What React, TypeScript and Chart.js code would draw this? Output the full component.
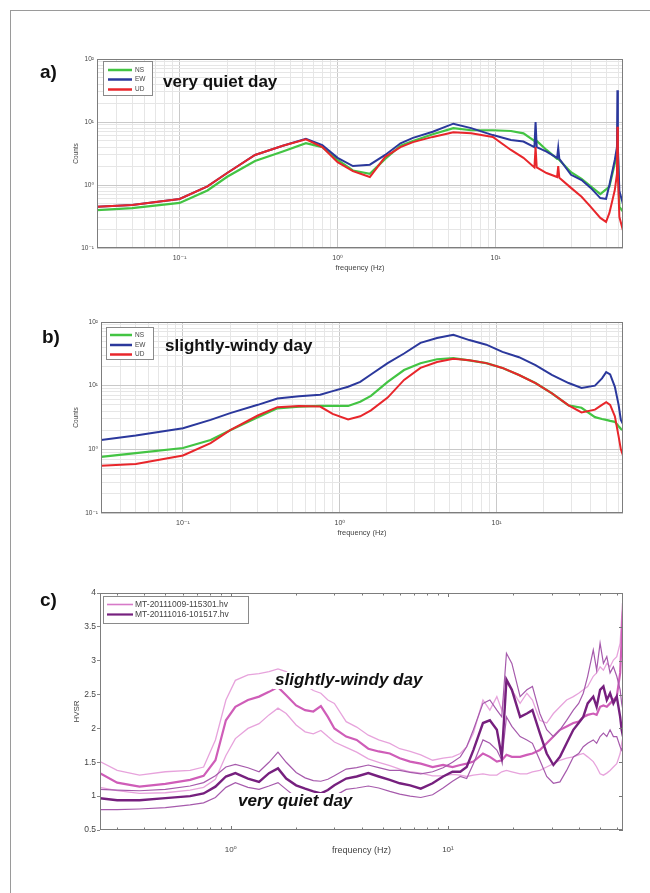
import React, { useEffect, useRef } from 'react';
import { Chart, registerables } from 'chart.js';

Chart.register(...registerables);

const FONT = 'Arial, "Liberation Sans", "DejaVu Sans", sans-serif';

// ---------- Panel a: very quiet day spectra ----------
const freqA = [0.03, 0.05, 0.1, 0.15, 0.2, 0.3, 0.45, 0.63, 0.8, 1.0, 1.25, 1.6, 2.0, 2.5, 3.0, 4.0, 5.4, 7.0, 9.6, 12.5, 15, 17.6, 17.9, 18.2, 21, 24.5, 24.9, 25.3, 30, 35, 40, 46, 50, 52.5, 56.8, 58.6, 59.0, 59.4, 60.7, 64];
const ewA = [0.45, 0.48, 0.6, 0.95, 1.55, 3.0, 4.2, 5.4, 4.3, 2.7, 2.0, 2.1, 3.0, 4.6, 5.6, 7.0, 9.4, 8.0, 6.2, 5.2, 4.9, 4.0, 10, 4.0, 3.4, 2.7, 3.9, 2.6, 1.45, 1.2, 0.9, 0.62, 0.6, 1.0, 2.5, 4.0, 32, 4.0, 0.8, 0.5];
const nsA = [0.40, 0.43, 0.52, 0.82, 1.35, 2.4, 3.4, 4.6, 4.0, 2.5, 1.7, 1.5, 2.6, 4.2, 5.0, 6.4, 8.0, 7.4, 7.4, 7.2, 6.6, 5.0, 5.0, 5.0, 3.6, 2.6, 2.6, 2.5, 1.6, 1.25, 0.95, 0.72, 0.85, 0.95, 2.2, 3.0, 3.5, 3.0, 0.45, 0.38];
const udA = [0.45, 0.48, 0.6, 0.95, 1.55, 3.0, 4.2, 5.3, 4.0, 2.3, 1.66, 1.34, 2.8, 4.0, 4.8, 5.8, 6.9, 6.6, 5.8, 3.6, 2.7, 1.9, 4.0, 1.9, 1.55, 1.34, 2.0, 1.3, 0.9, 0.65, 0.45, 0.3, 0.26, 0.36, 0.83, 1.5, 8.4, 1.5, 0.31, 0.19];

// ---------- Panel b: slightly-windy day spectra ----------
const freqB = [0.03, 0.05, 0.1, 0.15, 0.2, 0.3, 0.4, 0.55, 0.75, 0.9, 1.13, 1.35, 1.58, 2.02, 2.57, 3.27, 4.17, 5.3, 6.7, 8.6, 10.9, 13.9, 17.7, 22.5, 28.8, 34.8, 42.4, 47, 50, 53, 56.8, 60, 62, 64];
const ewB = [1.4, 1.65, 2.15, 2.9, 3.7, 5.0, 6.3, 6.8, 7.2, 8.2, 9.6, 11.5, 15, 22.6, 32, 47, 56, 63, 52, 44, 34, 28, 21, 14.8, 11, 9.2, 10, 13, 16.3, 15, 9.6, 5, 2.9, 2.5];
const nsB = [0.76, 0.87, 1.05, 1.4, 2.0, 3.2, 4.4, 4.7, 4.8, 4.8, 4.8, 5.6, 6.9, 11.5, 17.6, 22.5, 26, 27, 25, 22.6, 19, 14.7, 11, 7.6, 4.9, 4.5, 3.2, 3.0, 2.9, 2.8, 2.7, 2.3, 2.1, 2.0];
const udB = [0.55, 0.59, 0.8, 1.25, 2.0, 3.4, 4.6, 4.8, 4.7, 3.6, 2.95, 3.3, 4.1, 6.5, 12.3, 19, 23.5, 26.5, 25, 22.6, 19, 14.7, 11, 7.6, 4.9, 3.8, 4.2, 5.0, 5.5, 5.0, 3.3, 1.6, 1.0, 0.8];

// ---------- Panel c: HVSR curves ----------
const freqC = [0.25, 0.3, 0.38, 0.5, 0.65, 0.75, 0.85, 0.95, 1.05, 1.2, 1.35, 1.5, 1.65, 1.8, 2.0, 2.2, 2.4, 2.6, 2.8, 3.0,
  3.4, 3.8, 4.3, 4.8, 5.4, 6.0, 6.7, 7.5, 8.5, 9.5, 10.5,
  11.4, 12.2, 13.1, 14.5, 15.6, 16.8, 17.7, 18.6, 19.7, 21.5, 23.1, 24.5, 26.5, 28.5, 30.6, 32.8, 35.2, 37.8, 40, 42, 44, 46.7, 48.4, 50.2, 52, 53.9, 55.8, 57.8, 59.9, 62.1, 63.1, 64];
const windyMean = [1.34, 1.20, 1.14, 1.18, 1.24, 1.30, 1.53, 2.12, 2.32, 2.42, 2.47, 2.54, 2.61, 2.49, 2.34, 2.27, 2.25, 2.33, 2.17, 2.00,
  1.88, 1.83, 1.70, 1.66, 1.63, 1.56, 1.51, 1.48, 1.43, 1.46, 1.43,
  1.46, 1.48, 1.51, 1.63, 1.58, 1.51, 1.53, 1.61, 1.58, 1.58, 1.61, 1.63, 1.68, 1.78, 1.88, 1.98, 2.03, 2.08, 2.10, 2.17, 2.20, 2.22, 2.20, 2.32, 2.34, 2.32, 2.37, 2.42, 2.47, 2.82, 3.31, 3.85];
const windyUpper = [1.51, 1.38, 1.31, 1.36, 1.38, 1.43, 1.83, 2.42, 2.71, 2.79, 2.81, 2.84, 2.88, 2.84, 2.71, 2.64, 2.56, 2.52, 2.42, 2.37,
  2.10, 2.02, 1.90, 1.83, 1.78, 1.70, 1.66, 1.61, 1.53, 1.56, 1.58,
  1.63, 1.73, 1.93, 2.42, 2.27, 2.47, 2.27, 2.67, 2.57, 2.37, 2.52, 2.42, 2.12, 2.08, 2.22, 2.32, 2.42, 2.47, 2.52, 2.57, 2.62, 2.77, 2.82, 2.91, 2.86, 2.96, 2.91, 3.01, 3.06, 3.26, 3.65, 3.80];
const windyLower = [1.13, 1.08, 1.04, 1.05, 1.09, 1.13, 1.25, 1.60, 1.85, 2.00, 2.07, 2.20, 2.30, 2.22, 2.05, 1.95, 1.92, 1.97, 1.88, 1.80,
  1.72, 1.65, 1.55, 1.50, 1.45, 1.40, 1.36, 1.34, 1.30, 1.30, 1.32,
  1.31, 1.29, 1.31, 1.33, 1.31, 1.31, 1.36, 1.38, 1.36, 1.33, 1.33, 1.36, 1.38, 1.43, 1.48, 1.53, 1.56, 1.58, 1.61, 1.63, 1.58, 1.51, 1.43, 1.33, 1.31, 1.34, 1.38, 1.43, 1.48, 1.63, 1.78, 1.88];
const quietMean = [0.97, 0.94, 0.94, 0.97, 1.00, 1.04, 1.14, 1.29, 1.34, 1.26, 1.21, 1.34, 1.41, 1.26, 1.16, 1.11, 1.07, 1.04, 1.09, 1.16,
  1.26, 1.29, 1.34, 1.29, 1.24, 1.19, 1.16, 1.11, 1.19, 1.29, 1.36,
  1.36, 1.43, 1.68, 2.08, 2.12, 1.98, 1.58, 2.72, 2.57, 2.17, 2.22, 2.27, 1.93, 1.63, 1.46, 1.58, 1.78, 1.98, 2.08, 2.17, 2.37, 2.47, 2.32, 2.57, 2.62, 2.42, 2.52, 2.37, 2.47, 2.17, 1.98, 1.88];
const quietUpper = [1.10, 1.09, 1.08, 1.10, 1.15, 1.20, 1.30, 1.43, 1.47, 1.42, 1.36, 1.50, 1.65, 1.50, 1.35, 1.27, 1.23, 1.22, 1.25, 1.30,
  1.40, 1.42, 1.46, 1.42, 1.38, 1.38, 1.35, 1.33, 1.36, 1.42, 1.50,
  1.58, 1.73, 1.98, 2.37, 2.42, 2.27, 2.17, 3.11, 2.96, 2.47, 2.57, 2.62, 2.22, 1.98, 1.88, 1.98, 2.12, 2.27, 2.37, 2.52, 2.77, 3.16, 2.86, 3.26, 2.96, 3.06, 2.82, 2.91, 2.77, 2.57, 2.37, 2.27];
const quietLower = [0.80, 0.80, 0.81, 0.83, 0.87, 0.90, 0.98, 1.13, 1.20, 1.13, 1.10, 1.15, 1.20, 1.10, 0.98, 0.94, 0.92, 0.92, 0.95, 1.00,
  1.10, 1.12, 1.15, 1.12, 1.07, 1.03, 1.00, 0.98, 1.02, 1.12, 1.22,
  1.29, 1.26, 1.48, 1.83, 1.78, 1.68, 1.53, 2.17, 2.03, 1.88, 1.83, 1.78, 1.53, 1.29, 1.19, 1.21, 1.38, 1.58, 1.63, 1.73, 1.78, 1.83, 1.78, 1.88, 1.93, 1.88, 1.98, 1.88, 1.88, 1.73, 1.68, 1.73];

// ---------- Axes ----------
const decadeLabels: Record<string, string> = { '0.1': '10⁻¹', '1': '10⁰', '10': '10¹', '100': '10²' };
const mantissas = [1, 2, 3, 4, 5, 6, 7, 8, 9];
const psdFreqRange = [0.03, 64];
const psdCountRange = [0.1, 100];
const hvsrFreqRange = [0.25, 64];
const hvsrRange = [0.5, 4];

const COLORS = {
  ns: '#43c443',
  ew: '#2b389c',
  ud: '#e8262b',
  windyMean: '#cf5db8',
  windyStd: '#e7a3dc',
  quietMean: '#76207e',
  quietStd: '#a65aac',
};

function logTickValues(min: number, max: number): number[] {
  const out: number[] = [];
  for (let e = Math.floor(Math.log10(min)); e <= Math.ceil(Math.log10(max)); e++) {
    for (const m of mantissas) {
      const v = +(m * Math.pow(10, e)).toPrecision(6);
      if (v >= min - 1e-12 && v <= max + 1e-12) out.push(v);
    }
  }
  return out;
}

const isDecade = (v: number) => decadeLabels[String(+(+v).toPrecision(6))] !== undefined;
const decadeLabel = (v: any) => decadeLabels[String(+(+v).toPrecision(6))] ?? '';

const toXY = (f: number[], v: number[]) => f.map((x, i) => ({ x, y: v[i] }));

type TextItem = { text: string; x: number; y: number; font: string; bg?: boolean };
type LegendItem = { label: string; color: string; width: number };
type Decor = {
  texts: TextItem[];
  legend: { x: number; y: number; w: number; h: number; rows: number[]; lineX: [number, number]; textX: number; font: string; items: LegendItem[] };
  inwardTicks?: boolean;
};

function makeDecor(cfg: Decor) {
  return {
    id: 'panelDecor',
    afterDraw(chart: any) {
      const { ctx, chartArea: a } = chart;
      ctx.save();
      if (cfg.inwardTicks) {
        ctx.strokeStyle = '#777';
        ctx.lineWidth = 1;
        const xs = chart.scales.x;
        for (const t of xs.ticks) {
          const px = Math.round(xs.getPixelForValue(t.value)) + 0.5;
          const len = isDecade(t.value) ? 4 : 2.5;
          ctx.beginPath();
          ctx.moveTo(px, a.bottom); ctx.lineTo(px, a.bottom - len);
          ctx.moveTo(px, a.top); ctx.lineTo(px, a.top + len);
          ctx.stroke();
        }
        const ys = chart.scales.y;
        for (const t of ys.ticks) {
          const py = Math.round(ys.getPixelForValue(t.value)) + 0.5;
          ctx.beginPath();
          ctx.moveTo(a.right, py); ctx.lineTo(a.right - 4, py);
          ctx.stroke();
        }
      }
      // box
      ctx.strokeStyle = '#7d7d7d';
      ctx.lineWidth = 1;
      ctx.strokeRect(Math.round(a.left) + 0.5, Math.round(a.top) + 0.5, Math.round(a.right - a.left) - 1, Math.round(a.bottom - a.top) - 1);
      // legend
      const L = cfg.legend;
      ctx.fillStyle = '#ffffff';
      ctx.fillRect(L.x, L.y, L.w, L.h);
      ctx.strokeStyle = '#8a8a8a';
      ctx.strokeRect(L.x + 0.5, L.y + 0.5, L.w, L.h);
      L.items.forEach((it, i) => {
        const y = L.rows[i];
        ctx.strokeStyle = it.color;
        ctx.lineWidth = it.width;
        ctx.beginPath();
        ctx.moveTo(L.lineX[0], y); ctx.lineTo(L.lineX[1], y);
        ctx.stroke();
        ctx.fillStyle = '#444';
        ctx.font = L.font;
        ctx.textBaseline = 'middle';
        ctx.textAlign = 'left';
        ctx.fillText(it.label, L.textX, y);
      });
      // texts
      for (const t of cfg.texts) {
        ctx.font = t.font;
        ctx.textAlign = 'left';
        ctx.textBaseline = 'alphabetic';
        if (t.bg) {
          const w = ctx.measureText(t.text).width;
          ctx.fillStyle = '#ffffff';
          ctx.fillRect(t.x - 2, t.y - 13, w + 4, 17);
        }
        ctx.fillStyle = '#111';
        ctx.fillText(t.text, t.x, t.y);
      }
      ctx.restore();
    },
  };
}

function psdOptions(padTop: number, yAxisWidth: number) {
  const gridColor = (c: any) => (c.tick && isDecade(c.tick.value) ? '#c9c9c9' : '#e6e6e6');
  return {
    animation: false,
    responsive: false,
    maintainAspectRatio: false,
    layout: { padding: { top: padTop, left: 68, right: 27, bottom: 4 } },
    plugins: { legend: { display: false }, tooltip: { enabled: false } },
    elements: { point: { radius: 0 }, line: { tension: 0 } },
    scales: {
      x: {
        type: 'logarithmic',
        min: psdFreqRange[0],
        max: psdFreqRange[1],
        afterBuildTicks: (s: any) => { s.ticks = logTickValues(psdFreqRange[0], psdFreqRange[1]).map((value) => ({ value })); },
        afterFit: (s: any) => { s.height = 28; },
        grid: { drawTicks: false, color: gridColor, lineWidth: 1 },
        border: { display: false },
        ticks: { autoSkip: false, maxRotation: 0, padding: 6, color: '#444', font: { size: 7, family: FONT }, callback: (v: any) => decadeLabel(v) },
        title: { display: true, text: 'frequency (Hz)', color: '#444', font: { size: 7.5, family: FONT }, padding: { top: 0, bottom: 4 } },
      },
      y: {
        type: 'logarithmic',
        min: psdCountRange[0],
        max: psdCountRange[1],
        afterBuildTicks: (s: any) => { s.ticks = logTickValues(psdCountRange[0], psdCountRange[1]).map((value) => ({ value })); },
        afterFit: (s: any) => { s.width = yAxisWidth; },
        grid: { drawTicks: false, color: gridColor, lineWidth: 1 },
        border: { display: false },
        ticks: { autoSkip: false, padding: 3, color: '#444', font: { size: 6.5, family: FONT }, callback: (v: any) => decadeLabel(v) },
        title: { display: true, text: 'Counts', color: '#444', font: { size: 6.5, family: FONT }, padding: { top: 4, bottom: 0 } },
      },
    },
  };
}

function hvsrOptions() {
  return {
    animation: false,
    responsive: false,
    maintainAspectRatio: false,
    layout: { padding: { top: 28, left: 68, right: 27, bottom: 5 } },
    plugins: { legend: { display: false }, tooltip: { enabled: false } },
    elements: { point: { radius: 0 }, line: { tension: 0 } },
    scales: {
      x: {
        type: 'logarithmic',
        min: hvsrFreqRange[0],
        max: hvsrFreqRange[1],
        afterBuildTicks: (s: any) => { s.ticks = logTickValues(hvsrFreqRange[0], hvsrFreqRange[1]).map((value) => ({ value })); },
        afterFit: (s: any) => { s.height = 30; },
        grid: { display: false },
        border: { display: false },
        ticks: { autoSkip: false, maxRotation: 0, padding: 7, color: '#444', font: { size: 8, family: FONT }, callback: (v: any) => decadeLabel(v) },
        title: { display: true, text: 'frequency (Hz)', color: '#444', font: { size: 9, family: FONT }, padding: { top: 0, bottom: 4 } },
      },
      y: {
        type: 'linear',
        min: hvsrRange[0],
        max: hvsrRange[1],
        afterFit: (s: any) => { s.width = 32; },
        grid: { display: true, drawOnChartArea: false, drawTicks: true, tickLength: 3, color: '#888' },
        border: { display: false },
        ticks: { stepSize: 0.5, padding: 1, color: '#444', font: { size: 8.5, family: FONT }, callback: (v: any) => String(+(+v).toFixed(2)) },
        title: { display: true, text: 'HVSR', color: '#444', font: { size: 8, family: FONT }, padding: { top: 4, bottom: 0 } },
      },
    },
  };
}

function psdDatasets(f: number[], ns: number[], ew: number[], ud: number[]) {
  return [
    { label: 'UD', data: toXY(f, ud), borderColor: COLORS.ud, borderWidth: 2 },
    { label: 'EW', data: toXY(f, ew), borderColor: COLORS.ew, borderWidth: 2 },
    { label: 'NS', data: toXY(f, ns), borderColor: COLORS.ns, borderWidth: 2.2 },
  ];
}

const psdLegendItems: LegendItem[] = [
  { label: 'NS', color: COLORS.ns, width: 2.5 },
  { label: 'EW', color: COLORS.ew, width: 2.5 },
  { label: 'UD', color: COLORS.ud, width: 2.5 },
];

export default function App() {
  const refA = useRef<HTMLCanvasElement>(null);
  const refB = useRef<HTMLCanvasElement>(null);
  const refC = useRef<HTMLCanvasElement>(null);

  useEffect(() => {
    const charts: Chart[] = [];
    charts.push(new Chart(refA.current as HTMLCanvasElement, {
      type: 'line',
      data: { datasets: psdDatasets(freqA, nsA, ewA, udA) as any },
      options: psdOptions(29, 29) as any,
      plugins: [makeDecor({
        texts: [
          { text: 'a)', x: 40, y: 48, font: `bold 19px ${FONT}` },
          { text: 'very quiet day', x: 163, y: 56.5, font: `bold 17px ${FONT}` },
        ],
        legend: { x: 103, y: 31, w: 49, h: 34, rows: [40, 49.5, 59.5], lineX: [108, 132], textX: 135, font: `6.5px ${FONT}`, items: psdLegendItems },
      })],
    }));
    charts.push(new Chart(refB.current as HTMLCanvasElement, {
      type: 'line',
      data: { datasets: psdDatasets(freqB, nsB, ewB, udB) as any },
      options: psdOptions(27, 33) as any,
      plugins: [makeDecor({
        texts: [
          { text: 'b)', x: 42, y: 47.5, font: `bold 19px ${FONT}` },
          { text: 'slightly-windy day', x: 165, y: 55.5, font: `bold 17px ${FONT}` },
        ],
        legend: { x: 106, y: 32, w: 47, h: 32, rows: [40, 50, 59.5], lineX: [110, 132], textX: 135, font: `6.5px ${FONT}`, items: psdLegendItems },
      })],
    }));
    charts.push(new Chart(refC.current as HTMLCanvasElement, {
      type: 'line',
      data: {
        datasets: [
          { label: 'quiet mean', data: toXY(freqC, quietMean), borderColor: COLORS.quietMean, borderWidth: 2.4 },
          { label: 'quiet +std', data: toXY(freqC, quietUpper), borderColor: COLORS.quietStd, borderWidth: 1.2 },
          { label: 'quiet -std', data: toXY(freqC, quietLower), borderColor: COLORS.quietStd, borderWidth: 1.2 },
          { label: 'windy mean', data: toXY(freqC, windyMean), borderColor: COLORS.windyMean, borderWidth: 2.2 },
          { label: 'windy +std', data: toXY(freqC, windyUpper), borderColor: COLORS.windyStd, borderWidth: 1.3 },
          { label: 'windy -std', data: toXY(freqC, windyLower), borderColor: COLORS.windyStd, borderWidth: 1.3 },
        ] as any,
      },
      options: hvsrOptions() as any,
      plugins: [makeDecor({
        inwardTicks: true,
        texts: [
          { text: 'c)', x: 40, y: 41, font: `bold 19px ${FONT}` },
          { text: 'slightly-windy day', x: 275, y: 120, font: `italic bold 17px ${FONT}`, bg: true },
          { text: 'very quiet day', x: 238, y: 241, font: `italic bold 17px ${FONT}`, bg: true },
        ],
        legend: {
          x: 103, y: 31, w: 145, h: 27, rows: [39.5, 49.5], lineX: [107, 133], textX: 135, font: `8.5px ${FONT}`,
          items: [
            { label: 'MT-20111009-115301.hv', color: '#d77ac8', width: 1.6 },
            { label: 'MT-20111016-101517.hv', color: COLORS.quietMean, width: 2.2 },
          ],
        },
      })],
    }));
    return () => charts.forEach((c) => c.destroy());
  }, []);

  return (
    <div style={{ position: 'absolute', left: 0, top: 0, width: 650, height: 893, background: '#ffffff', overflow: 'hidden' }}>
      <div style={{ position: 'absolute', left: 10, top: 10, width: 640, height: 883, borderTop: '1px solid #9a9a9a', borderLeft: '1px solid #9a9a9a' }} />
      <canvas ref={refA} width={650} height={250} style={{ position: 'absolute', left: 0, top: 30 }} />
      <canvas ref={refB} width={650} height={250} style={{ position: 'absolute', left: 0, top: 295 }} />
      <canvas ref={refC} width={650} height={300} style={{ position: 'absolute', left: 0, top: 565 }} />
    </div>
  );
}
